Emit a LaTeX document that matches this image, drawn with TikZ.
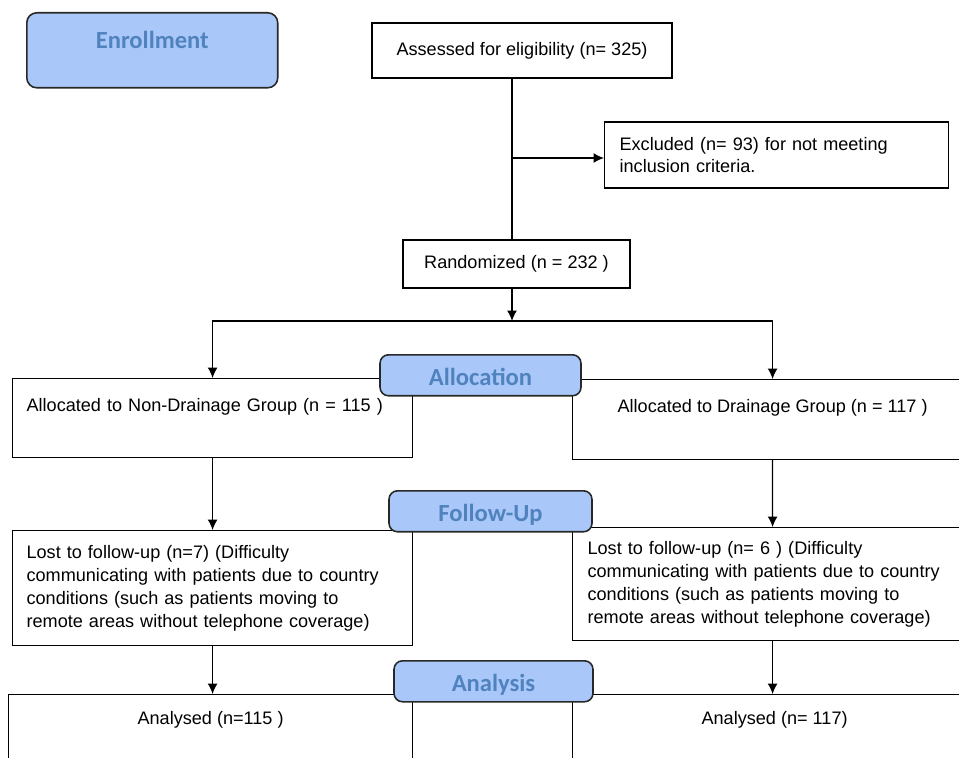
\documentclass[tikz,border=0pt]{standalone}
\usepackage{fontspec}
\setmainfont{Liberation Sans}
\newfontfamily\stagefont{Carlito}
\usepackage{xcolor}
\usepackage{tikz}
\usetikzlibrary{arrows.meta}
\definecolor{stagefill}{RGB}{169,200,249}
\definecolor{stagetext}{RGB}{80,130,190}
\definecolor{stageline}{RGB}{40,40,40}
\tikzset{
  infobox/.style={
    draw,
    line width=0.7pt,
    fill=white,
    inner sep=0pt,
    font=\fontsize{10.3}{13}\selectfont
  },
  stagebox/.style={
    draw=stageline,
    line width=0.9pt,
    fill=stagefill,
    rounded corners=0.17cm,
    inner sep=0pt,
    text=stagetext,
    font=\stagefont\bfseries\fontsize{14}{16}\selectfont
  }
}

\begin{document}
\begin{tikzpicture}[
    x=0.02cm,
    y=-0.02cm,
    flow/.style={-{Latex[length=2.1mm,width=2mm]}, line width=0.7pt},
    wire/.style={line width=0.7pt},
    leftbox/.style={infobox, align=left, text width=7.44cm, inner xsep=0.28cm},
    midbox/.style={infobox, align=center, minimum width=8cm},
    stagelow/.style={stagebox, anchor=north, text height=0.62cm, text depth=0.2cm}
  ]
  \useasboundingbox (0,0) rectangle (959,757);
  \clip (0,0) rectangle (959,757);

  \node[stagebox, anchor=north west, minimum width=5.02cm,
        text height=0.72cm, text depth=0.78cm, rounded corners=0.2cm]
    (enroll) at (26,12) {Enrollment};

  \node[infobox, minimum width=6cm, minimum height=1.1cm] (assess) at (522,50.5)
    {Assessed for eligibility (n= 325)};
  \node[infobox, anchor=west, align=left, text width=6.28cm, inner xsep=0.3cm,
        minimum height=1.32cm] (excl) at (604,155)
    {Excluded (n= 93) for not meeting\\inclusion criteria.};
  \node[infobox, minimum width=4.54cm, minimum height=0.96cm] (rand) at (516.5,264)
    {Randomized (n = 232 )};

  \node[leftbox, anchor=north west, text height=0.66cm, text depth=0.92cm]
    (allocL) at (12,378) {Allocated to Non-Drainage Group (n = 115 )};
  \node[midbox, anchor=north west, text height=0.66cm, text depth=0.94cm]
    (allocR) at (572,379) {Allocated to Drainage Group (n = 117 )};

  \node[leftbox, anchor=north west, minimum height=2.3cm] (lostL) at (12,530)
    {Lost to follow-up (n=7) (Difficulty\\
     communicating with patients due to country\\
     conditions (such as patients moving to\\
     remote areas without telephone coverage)};
  \node[infobox, anchor=north west, align=left, text width=7.4cm, inner xsep=0.3cm,
        minimum height=2.26cm] (lostR) at (572,527)
    {Lost to follow-up (n= 6 ) (Difficulty\\
     communicating with patients due to country\\
     conditions (such as patients moving to\\
     remote areas without telephone coverage)};

  \node[infobox, anchor=north west, minimum width=8.08cm,
        text height=0.6cm, text depth=1.6cm] (anL) at (8,694) {Analysed (n=115 )};
  \node[infobox, anchor=north west, minimum width=8.08cm,
        text height=0.6cm, text depth=1.6cm] (anR) at (572,694) {Analysed (n= 117)};

  \coordinate (exbr) at (512,158);
  \coordinate (split) at (512,321);

  \draw[wire] (assess.south -| split) -- (rand.north -| split);
  \draw[flow] (exbr) -- (exbr -| excl.west);
  \draw[flow] (rand.south -| split) -- (split);
  \draw[flow] (split) -| (allocL.north);
  \draw[flow] (split) -| (allocR.north);
  \draw[flow] (allocL.south) -- (lostL.north);
  \draw[flow] (allocR.south) -- (lostR.south |- lostR.north);
  \draw[flow] (lostL.south) -- (lostL.south |- anL.north);
  \draw[flow] (lostR.south) -- (lostR.south |- anR.north);

  \node[stagelow, minimum width=4.02cm] (alloc) at (480.5,354) {Allocation};
  \node[stagelow, minimum width=4.06cm] (follow) at (490.5,490) {Follow-Up};
  \node[stagelow, minimum width=3.98cm] (anal) at (493.5,660) {Analysis};
\end{tikzpicture}
\end{document}
